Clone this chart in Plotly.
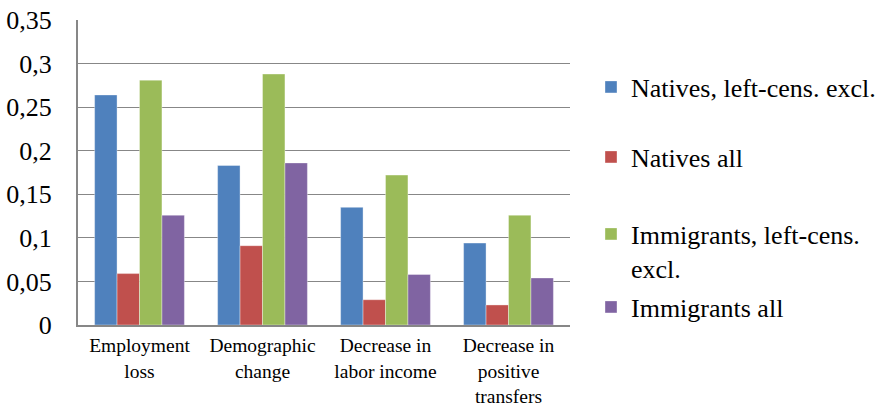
import plotly.graph_objects as go

categories = ["Employment<br>loss", "Demographic<br>change", "Decrease in<br>labor income", "Decrease in<br>positive<br>transfers"]
series_names = ["Natives, left-cens. excl.", "Natives all", "Immigrants, left-cens.<br>excl.", "Immigrants all"]
natives_lc = [0.264, 0.183, 0.135, 0.094]
natives_all = [0.059, 0.091, 0.029, 0.023]
immig_lc = [0.281, 0.288, 0.172, 0.126]
immig_all = [0.126, 0.186, 0.058, 0.054]
y_ticks = [0, 0.05, 0.1, 0.15, 0.2, 0.25, 0.3, 0.35]

colors = ["#4F81BD", "#C0504D", "#9BBB59", "#8064A2"]
values = [natives_lc, natives_all, immig_lc, immig_all]
legend_ids = ["legend", "legend2", "legend3", "legend4"]

font_family = "Liberation Serif, Tinos, Times New Roman, DejaVu Serif, serif"

fig = go.Figure()
for name, vals, col, lg in zip(series_names, values, colors, legend_ids):
    fig.add_trace(go.Bar(
        x=categories, y=vals, name=name,
        marker=dict(color=col, line=dict(color="rgba(255,255,255,0.6)", width=0.6)),
        legend=lg,
    ))

W, H = 887, 410
ml, mr, mt, mb = 78, 317, 20, 85
pw = W - ml - mr
ph = H - mt - mb

def px_to_paper(px, py):
    return (px - ml) / pw, (H - mb - py) / ph

leg_x = 591
leg_centers = [87, 157, 251, 307]
legend_layouts = {}
for lg, cy in zip(legend_ids, leg_centers):
    xp, yp = px_to_paper(leg_x, cy)
    legend_layouts[lg] = dict(
        x=xp, y=yp, xanchor="left", yanchor="middle",
        font=dict(family=font_family, size=26, color="black"),
        bgcolor="rgba(0,0,0,0)", borderwidth=0, valign="top",
    )

fig.update_layout(
    width=W, height=H,
    margin=dict(l=ml, r=mr, t=mt, b=mb, pad=0, autoexpand=False),
    paper_bgcolor="white", plot_bgcolor="white",
    barmode="group", bargap=0.27, bargroupgap=0,
    separators=", ",
    font=dict(family=font_family, color="black"),
    showlegend=True,
    **legend_layouts,
)
fig.update_yaxes(
    range=[0, 0.35], tickvals=y_ticks, ticktext=[("%g" % v).replace(".", ",") for v in y_ticks],
    showgrid=True, gridcolor="#878787", gridwidth=1.3,
    showline=True, linecolor="#878787", linewidth=2,
    ticks="", ticklabelstandoff=19, automargin=False,
    tickfont=dict(family=font_family, size=26, color="black"),
    zeroline=False,
)
fig.update_xaxes(
    showline=True, linecolor="#878787", linewidth=2,
    ticks="", tickangle=0, automargin=False, ticklabelstandoff=2,
    tickfont=dict(family=font_family, size=19.5, color="black"),
)

fig.write_html("out.html")
